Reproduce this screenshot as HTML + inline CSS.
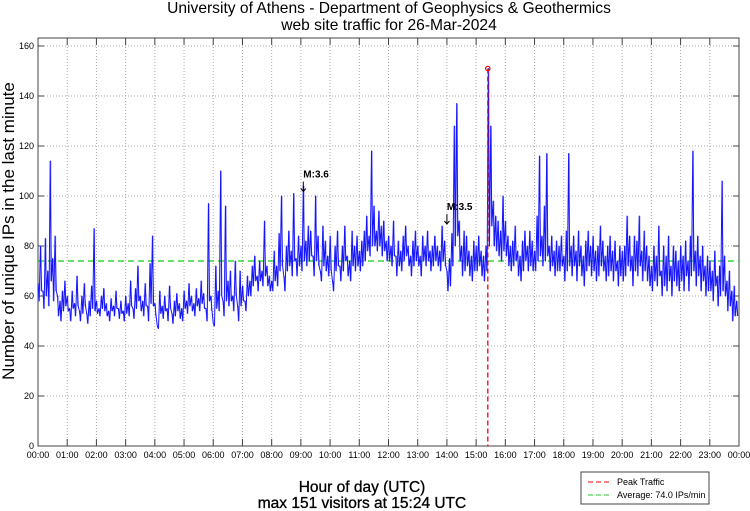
<!DOCTYPE html>
<html><head><meta charset="utf-8"><style>
body{margin:0;background:#fff;}
svg{display:block;font-family:"Liberation Sans",sans-serif;}
</style></head><body>
<svg id="chart" width="750" height="511" viewBox="0 0 750 511">
<text x="389" y="13" font-size="15.6" text-anchor="middle">University of Athens - Department of Geophysics &amp; Geothermics</text>
<text x="389" y="30" font-size="15.6" text-anchor="middle">web site traffic for 26-Mar-2024</text>
<g id="grid"></g>
<g id="axes"></g>
<rect x="38" y="38" width="701" height="408" fill="none" stroke="#444" stroke-width="1"/>
<text transform="translate(14,231) rotate(-90)" font-size="17" text-anchor="middle">Number of unique IPs in the last minute</text>
<text x="362" y="492" font-size="15.5" text-anchor="middle" stroke="#000" stroke-width="0.3">Hour of day (UTC)</text>
<text x="362" y="508" font-size="15.5" text-anchor="middle" stroke="#000" stroke-width="0.3">max 151 visitors at 15:24 UTC</text>
<g>
<rect x="581" y="472" width="128" height="32" fill="#fff" stroke="#444"/>
<line x1="588" y1="482" x2="612" y2="482" stroke="#f00" stroke-dasharray="5,3"/>
<text x="617" y="485" font-size="9">Peak Traffic</text>
<line x1="588" y1="495" x2="612" y2="495" stroke="#2c2" stroke-dasharray="5,3"/>
<text x="617" y="498" font-size="9">Average: 74.0 IPs/min</text>
</g>
</svg>
<script>
const yTicks=[0,20,40,60,80,100,120,140,160];
const xTickLabels=["00:00","01:00","02:00","03:00","04:00","05:00","06:00","07:00","08:00","09:00","10:00","11:00","12:00","13:00","14:00","15:00","16:00","17:00","18:00","19:00","20:00","21:00","22:00","23:00","00:00"];
const stepMinutes=5;
const visitors=[
65,80,62,83,70,114,75,84,60,58,62,66,
60,55,62,57,68,54,60,65,53,58,64,87,
58,55,60,63,57,54,59,56,62,55,58,54,
60,57,66,55,63,72,60,58,65,56,73,84,
57,48,62,56,60,55,64,53,58,61,57,55,
62,58,65,60,57,63,59,66,61,55,97,60,
49,72,62,110,58,96,66,70,60,74,56,70,
64,58,68,66,72,76,68,74,70,90,72,68,
66,78,72,85,100,68,80,86,78,101,75,84,
80,104,82,88,86,76,100,84,70,88,82,76,
84,66,80,86,72,80,88,76,74,86,80,84,
78,82,86,92,84,118,96,86,94,88,90,82,
84,80,90,76,82,78,84,88,80,76,82,86,
80,76,84,80,86,78,80,84,80,78,88,82,
70,75,85,128,137,90,80,86,84,78,76,82,
80,84,78,76,80,151,128,98,92,90,86,100,
90,84,80,82,88,78,76,82,86,80,86,82,
78,92,116,84,96,117,80,84,78,82,80,84,
76,86,117,80,84,78,86,80,76,82,86,80,
84,78,80,88,82,76,80,84,78,82,74,80,
78,80,92,84,76,84,82,92,78,86,80,76,
72,80,76,88,70,80,76,84,72,80,78,74,
80,76,82,74,84,118,78,84,76,80,72,76,
74,70,78,68,72,106,76,66,70,62,64,58];
const visitorsLow=[
58,62,55,60,56,66,58,62,52,50,54,56,
54,50,55,52,56,50,53,56,49,52,55,54,
53,52,55,54,52,50,54,52,55,51,53,50,
53,52,56,51,55,58,54,52,56,50,57,56,
52,47,53,51,54,50,55,49,52,54,51,50,
55,53,56,54,52,56,54,57,55,50,58,54,
48,55,54,60,52,58,56,58,54,60,50,56,
58,54,60,60,64,66,62,66,64,68,64,62,
62,66,64,70,72,62,70,72,68,74,68,72,
70,74,72,74,76,68,74,72,66,72,70,68,
70,62,70,72,66,70,74,68,66,72,70,72,
70,72,74,78,76,80,80,78,80,76,78,74,
74,72,76,68,72,70,74,76,72,68,72,74,
72,68,74,72,74,70,72,74,72,70,74,72,
62,64,72,80,84,74,68,70,72,68,66,70,
70,72,68,66,70,80,88,80,78,76,74,78,
76,72,70,72,74,68,66,70,74,70,72,70,
70,74,76,72,74,76,70,72,68,70,70,72,
66,70,72,68,72,66,72,68,64,70,72,68,
70,66,68,72,70,66,68,70,66,70,64,68,
66,68,72,70,64,70,68,72,66,70,66,64,
62,66,64,68,60,64,62,66,60,66,64,62,
66,62,68,62,68,70,64,68,62,66,60,62,
62,58,64,56,60,62,60,54,56,50,52,52];
const averageValue=74.0;
const peakValue=151, peakMinute=924;
const annotations=[{label:"M:3.6",minute:545,value:101},{label:"M:3.5",minute:840,value:88}];

const NS="http://www.w3.org/2000/svg";
const X0=38,X1=739,Y0=446,YTOP=46;
const xs=m=>X0+m*(X1-X0)/1440;
const ys=v=>Y0-v*(Y0-YTOP)/160;
const svg=document.getElementById('chart');
const grid=document.getElementById('grid');
const axes=document.getElementById('axes');
function mk(tag,attrs,parent){const e=document.createElementNS(NS,tag);for(const k in attrs)e.setAttribute(k,attrs[k]);parent.appendChild(e);return e;}
yTicks.forEach(t=>{
  const y=ys(t);
  if(t>0){const g=mk('line',{x1:X0,x2:X1,y1:y,y2:y,stroke:'#aaa','stroke-dasharray':'1,2'},grid);
  
  }
  const tk=mk('line',{x1:X0,x2:X0+6,y1:y,y2:y,stroke:'#444'},axes);
  
  
  const tk2=mk('line',{x1:X1-6,x2:X1,y1:y,y2:y,stroke:'#444'},axes);
  
  
  const lb=mk('text',{x:X0-4,y:y+3,'font-size':9,'text-anchor':'end'},axes);
  lb.textContent=t;
  
  
});
xTickLabels.forEach((s,i)=>{
  const x=xs(i*60);
  if(i>0&&i<24){const g=mk('line',{x1:x,x2:x,y1:38,y2:Y0,stroke:'#aaa','stroke-dasharray':'1,2'},grid);
  
  }
  const tk=mk('line',{x1:x,x2:x,y1:Y0-7,y2:Y0,stroke:'#444'},axes);
  
  
  const tk2=mk('line',{x1:x,x2:x,y1:38,y2:45,stroke:'#444'},axes);
  
  
  const lb=mk('text',{x:x,y:Y0+12,'font-size':9,'text-anchor':'middle'},axes);
  lb.textContent=s;
  
  
});
const avg=mk('line',{x1:X0,x2:X1,y1:ys(averageValue),y2:ys(averageValue),stroke:'#1c1','stroke-width':1.3,'stroke-dasharray':'6,4'},svg);


const rangeGroup=mk('g',{},svg);


visitors.forEach((v,i)=>{
  const lo=visitorsLow[i];
  const x=xs(i*stepMinutes+1.25);
  const b=mk('line',{x1:x,x2:x,y1:ys(Math.max(v,lo)),y2:ys(lo),stroke:'#7a7aff','stroke-width':1},rangeGroup);
  
  
});
const zz=[];
visitors.forEach((v,i)=>{
  zz.push(xs(i*stepMinutes).toFixed(1)+','+ys(v).toFixed(1));
  zz.push(xs(i*stepMinutes+2.5).toFixed(1)+','+ys(visitorsLow[i]).toFixed(1));
});
const pl=mk('polyline',{points:zz.join(' '),fill:'none',stroke:'#1414ff','stroke-width':1,'stroke-linejoin':'round'},svg);


const pk=mk('line',{x1:xs(peakMinute),x2:xs(peakMinute),y1:ys(peakValue),y2:Y0,stroke:'#e00','stroke-width':1.3,'stroke-dasharray':'5,3'},svg);


const pc=mk('circle',{cx:xs(peakMinute),cy:ys(peakValue),r:2.2,fill:'none',stroke:'#e00','stroke-width':1.2},svg);


annotations.forEach(a=>{
  const x=xs(a.minute),y=ys(a.value)-2;
  const g=mk('g',{},svg);
  
  
  mk('line',{x1:x,x2:x,y1:y-10,y2:y,stroke:'#000'},g);
  mk('path',{d:`M${x-2.5},${y-3} L${x},${y} L${x+2.5},${y-3}`,fill:'none',stroke:'#000'},g);
  const t=mk('text',{x:x,y:y-14,'font-size':10,'font-weight':'bold'},g);
  t.textContent=a.label;
});
</script>
</body></html>
